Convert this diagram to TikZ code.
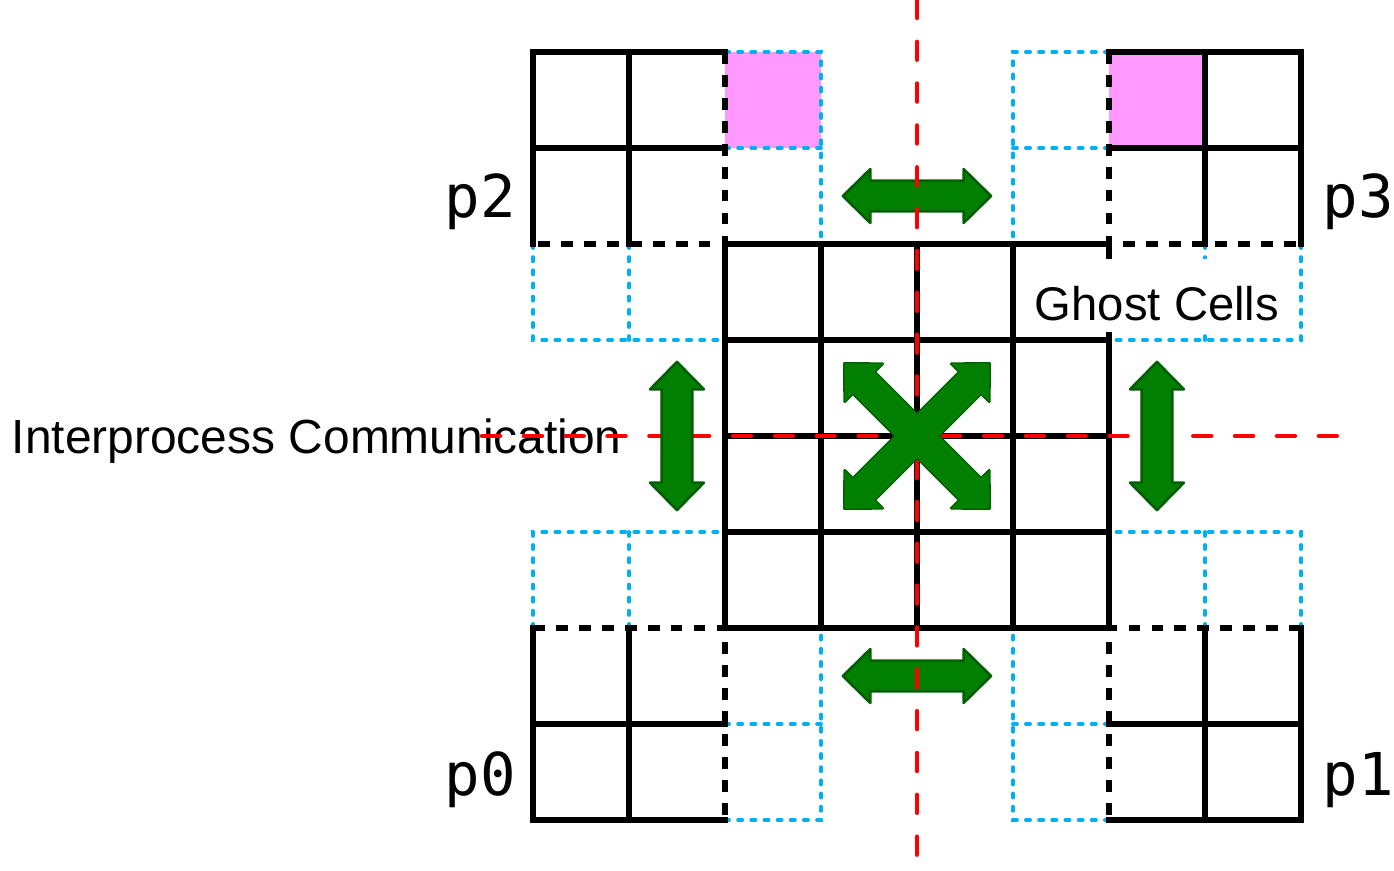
\documentclass[tikz,border=0pt]{standalone}
\usepackage{fontspec}
\setmainfont{Liberation Sans}
\newfontfamily\procfont{DejaVu Sans Mono}
\definecolor{ghostblue}{HTML}{00B0F0}
\definecolor{cornerpink}{HTML}{FF99FF}
\definecolor{commgreen}{HTML}{007F00}
\definecolor{commdark}{HTML}{005F00}
\tikzset{
  owned/.style={line width=1.65pt, line cap=rect},
  halo/.style={line width=1.65pt, dash pattern=on 3.5pt off 3.3pt},
  ghost/.style={ghostblue, line width=1.15pt, line cap=round, dash pattern=on 1.2pt off 2.7pt},
  cut/.style={red, line width=1.35pt, line cap=round, dash pattern=on 5.3pt off 7.1pt},
  proc/.style={font=\procfont\fontsize{17.5}{20}\selectfont, inner sep=0pt},
  paint/.style={fill=commgreen, draw=commdark, line width=0.8pt, line join=round},
  pics/swap/.style={code={
    \path[paint]
      (-#1,0) -- ++(0.285,0.28) -- ++(0,-0.12) -- (#1-0.285,0.16)
      -- ++(0,0.12) -- (#1,0) -- ++(-0.285,-0.28) -- ++(0,0.12)
      -- (-#1+0.285,-0.16) -- ++(0,-0.12) -- cycle;
  }}
}
\begin{document}
\begin{tikzpicture}
    \useasboundingbox (-5.552,-0.521) rectangle (8.969,8.542);
    % Corner cells that get swapped
    \fill[cornerpink] (2,7) rectangle (3,8);
    \fill[cornerpink] (6,7) rectangle (7,8);
    % Ghost layers
    \draw[ghost] (2,8) -- (3,8) -- (3,6);
    \draw[ghost] (2,7) -- (3,7);
    \draw[ghost] (0,6) -- (0,5) -- (2,5);
    \draw[ghost] (1,6) -- (1,5);
    \draw[ghost] (6,8) -- (5,8) -- (5,6);
    \draw[ghost] (6,7) -- (5,7);
    \draw[ghost] (8,6) -- (8,5) -- (6,5);
    \draw[ghost] (7,6) -- (7,5);
    \draw[ghost] (0,2) -- (0,3) -- (2,3);
    \draw[ghost] (1,2) -- (1,3);
    \draw[ghost] (2,0) -- (3,0) -- (3,2);
    \draw[ghost] (2,1) -- (3,1);
    \draw[ghost] (8,2) -- (8,3) -- (6,3);
    \draw[ghost] (7,2) -- (7,3);
    \draw[ghost] (6,0) -- (5,0) -- (5,2);
    \draw[ghost] (6,1) -- (5,1);
    % Subdomain borders
    \draw[halo] (2,8) -- (2,6) -- (0,6);
    \draw[halo] (6,8) -- (6,6) -- (8,6);
    \draw[halo] (0,2) -- (2,2) -- (2,0);
    \draw[halo] (8,2) -- (6,2) -- (6,0);
    % Owned cells
    \draw[owned] (2,8) -- (0,8) -- (0,6) (1,8) -- (1,6) (0,7) -- (2,7);
    \draw[owned] (6,8) -- (8,8) -- (8,6) (7,8) -- (7,6) (6,7) -- (8,7);
    \draw[owned] (0,2) -- (0,0) -- (2,0) (1,0) -- (1,2) (0,1) -- (2,1);
    \draw[owned] (8,2) -- (8,0) -- (6,0) (7,0) -- (7,2) (6,1) -- (8,1);
    \draw[owned] (2,2) grid (6,6);
    % Labels
    \node[proc, anchor=base east] (p2) at (-0.17,6.28) {p2};
    \node[proc, anchor=base west] (p3) at (8.22,6.28) {p3};
    \node[proc, anchor=base east] (p0) at (-0.17,0.26) {p0};
    \node[proc, anchor=base west] (p1) at (8.22,0.26) {p1};
    \node[font=\fontsize{14}{16}\selectfont, fill=white, inner sep=3pt,
          text height=15.4pt, text depth=0.3pt, anchor=base] (ghostlbl) at (6.5,5.2) {Ghost Cells};
    \node[font=\fontsize{14.2}{17}\selectfont, inner sep=0pt, anchor=base west]
          (commlbl) at (-5.435,3.823) {Interprocess Communication};
    % Exchanges across the cut
    \pic at (4,6.5) {swap=0.771};
    \pic at (4,1.5) {swap=0.771};
    % Cuts between processes
    \draw[cut] (4,8.542) -- (4,-0.521);
    \draw[cut] (-0.53,4) -- (8.46,4);
    \pic[rotate=90] at (1.5,4) {swap=0.771};
    \pic[rotate=90] at (6.5,4) {swap=0.771};
    % Diagonal exchange: outlines first, then fills so the cross merges
    \pic[rotate=45] at (4,4) {swap=1.07};
    \pic[rotate=-45] at (4,4) {swap=1.07};
    \begin{scope}[paint/.style={fill=commgreen}]
        \pic[rotate=45] at (4,4) {swap=1.07};
        \pic[rotate=-45] at (4,4) {swap=1.07};
    \end{scope}
\end{tikzpicture}
\end{document}
